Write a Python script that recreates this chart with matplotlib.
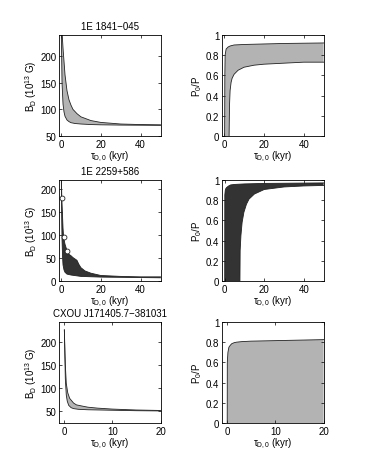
import numpy as np
import matplotlib
matplotlib.use('Agg')
import matplotlib.pyplot as plt

plt.rcParams['font.family'] = ['Liberation Sans', 'DejaVu Sans']
plt.rcParams['mathtext.fontset'] = 'custom'
plt.rcParams['mathtext.rm'] = 'Liberation Sans'
plt.rcParams['mathtext.it'] = 'Liberation Sans:italic'
plt.rcParams['font.size'] = 7

# --- 1E 1841-045 ---
t1_up = [0.6, 1, 2, 3, 4, 5, 6, 8, 10, 15, 20, 30, 40, 50]
b1_up = [240, 215, 165, 135, 118, 108, 100, 92, 86, 79, 75.5, 72.5, 71.5, 71]
t1_lo = [0.15, 0.5, 1, 1.5, 2, 3, 4, 5, 7, 10, 15, 20, 30, 50]
b1_lo = [240, 150, 110, 95, 87, 80, 77, 75, 73.5, 72.5, 71.5, 71, 70.5, 70]
t2_up = [0.25, 0.35, 0.5, 1, 2, 3, 5, 10, 20, 30, 50]
p2_up = [0, 0.6, 0.8, 0.86, 0.88, 0.89, 0.9, 0.905, 0.91, 0.915, 0.92]
t2_lo = [2.5, 2.7, 3, 3.5, 4, 5, 7, 10, 15, 20, 30, 40, 50]
p2_lo = [0, 0.3, 0.45, 0.53, 0.57, 0.61, 0.65, 0.68, 0.70, 0.71, 0.72, 0.73, 0.73]

# --- 1E 2259+586 ---
t3_up = [0.2, 0.3, 0.4, 1, 1.3, 2, 3, 4, 5, 6, 7, 8, 9, 10, 12, 15, 20, 30, 40, 50]
b3_up = [220, 200, 180, 115, 95, 80, 66, 58, 55, 51, 48, 45, 36, 29, 22, 17, 12, 10, 9, 9]
t3_lo = [0.15, 0.3, 0.5, 0.8, 1, 1.5, 2, 3, 5, 10, 20, 30, 50]
b3_lo = [220, 150, 90, 50, 35, 24, 19, 15, 13, 10, 8.5, 8, 7]
t3_pts = [0.4, 1.3, 3.0]
b3_pts = [180, 95, 66]
t4_up = [0, 0.05, 0.3, 0.6, 1, 2, 3, 5, 10, 20, 50]
p4_up = [0, 0.85, 0.9, 0.915, 0.925, 0.94, 0.95, 0.955, 0.96, 0.965, 0.97]
t4_lo = [7.7, 7.8, 8.2, 8.8, 9.7, 11, 12.3, 15, 20, 30, 40, 50]
p4_lo = [0, 0.3, 0.45, 0.58, 0.68, 0.76, 0.81, 0.86, 0.905, 0.93, 0.94, 0.945]

# --- CXOU J171405.7-381031 ---
t5_up = [0.1, 0.3, 0.5, 0.8, 1.2, 2, 2.6, 4, 5, 7, 10, 15, 20]
b5_up = [225, 150, 110, 90, 78, 68, 64, 61, 59, 57, 55, 53, 52]
t5_lo = [0.1, 0.3, 0.5, 0.7, 1, 1.5, 2, 3, 5, 10, 15, 20]
b5_lo = [225, 120, 85, 72, 63, 58, 56, 54.5, 53.5, 52.5, 51.5, 51]
t6 = [0.05, 0.07, 0.2, 0.4, 0.7, 1, 1.5, 2, 3, 5, 10, 15, 20]
p6 = [0, 0.6, 0.7, 0.75, 0.77, 0.785, 0.795, 0.8, 0.805, 0.81, 0.815, 0.82, 0.825]

titles = ['1E 1841\u2212045', '1E 2259+586', 'CXOU J171405.7\u2212381031']
light = '#b3b3b3'
dark = '#333333'
xlab = r'$\mathregular{\tau_{D,0}}$ (kyr)'
blab = r'$\mathregular{B_D}$ (10$^{13}$ G)'
plab = r'$\mathregular{P_0/P}$'

fig = plt.figure(figsize=(3.69, 4.77), dpi=100)
lx, rx, w = 0.160, 0.602, 0.275
rows = [0.7128, 0.4088, 0.111]
h = 0.212


def band(ax, tu, yu, tl, yl, col, base=None):
    if base is None:
        xs = list(tu) + list(tl)[::-1]
        ys = list(yu) + list(yl)[::-1]
    else:
        xs = list(tu) + [tu[-1], tu[0]]
        ys = list(yu) + [base, base]
    ax.fill(xs, ys, color=col, lw=0)
    ax.plot(tu, yu, color='#222222', lw=0.6)
    if tl is not None:
        ax.plot(tl, yl, color='#222222', lw=0.6)


def style(ax):
    ax.tick_params(direction='in', length=2, width=0.5, top=True, right=True, pad=2)
    for s in ax.spines.values():
        s.set_linewidth(0.6)
    ax.set_xlabel(xlab, labelpad=0)


axs = []
for r in rows:
    axs.append((fig.add_axes([lx, r, w, h]), fig.add_axes([rx, r, w, h])))

# row 1
a, b = axs[0]
band(a, t1_up, b1_up, t1_lo, b1_lo, light)
a.set_xlim(-1, 50); a.set_ylim(50, 240)
a.set_xticks([0, 20, 40]); a.set_yticks([50, 100, 150, 200])
a.set_ylabel(blab, labelpad=1)
a.set_title(titles[0], fontsize=7, pad=4)
band(b, t2_up, p2_up, t2_lo, p2_lo, light)
b.set_xlim(-1, 50); b.set_ylim(0, 1)
b.set_xticks([0, 20, 40]); b.set_yticks([0, 0.2, 0.4, 0.6, 0.8, 1])
b.set_yticklabels(['0', '0.2', '0.4', '0.6', '0.8', '1'])
b.set_ylabel(plab, labelpad=1)

# row 2
a, b = axs[1]
band(a, t3_up, b3_up, t3_lo, b3_lo, dark)
a.plot(t3_pts, b3_pts, 'o', ms=3.5, mfc='white', mec='#222222', mew=0.6, clip_on=False)
a.set_xlim(-1, 50); a.set_ylim(0, 220)
a.set_xticks([0, 20, 40]); a.set_yticks([0, 50, 100, 150, 200])
a.set_ylabel(blab, labelpad=1)
a.set_title(titles[1], fontsize=7, pad=4)
band(b, t4_up, p4_up, t4_lo, p4_lo, dark)
b.set_xlim(-1.3, 50); b.set_ylim(0, 1)
b.set_xticks([0, 20, 40]); b.set_yticks([0, 0.2, 0.4, 0.6, 0.8, 1])
b.set_yticklabels(['0', '0.2', '0.4', '0.6', '0.8', '1'])
b.set_ylabel(plab, labelpad=1)

# row 3
a, b = axs[2]
band(a, t5_up, b5_up, t5_lo, b5_lo, light)
a.set_xlim(-1, 20); a.set_ylim(25, 242)
a.set_xticks([0, 10, 20]); a.set_yticks([50, 100, 150, 200])
a.set_ylabel(blab, labelpad=1)
a.set_title(titles[2], fontsize=7, pad=4)
band(b, t6, p6, None, None, light, base=0)
b.set_xlim(-1, 20); b.set_ylim(0, 1)
b.set_xticks([0, 10, 20]); b.set_yticks([0, 0.2, 0.4, 0.6, 0.8, 1])
b.set_yticklabels(['0', '0.2', '0.4', '0.6', '0.8', '1'])
b.set_ylabel(plab, labelpad=1)

for a, b in axs:
    style(a)
    style(b)

fig.savefig('out.png', dpi=100)
